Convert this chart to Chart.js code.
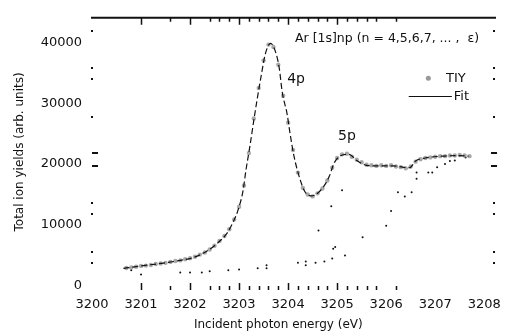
<!DOCTYPE html>
<html>
<head>
<meta charset="utf-8">
<script src="https://cdn.jsdelivr.net/npm/chart.js@4"></script>
<style>
  html, body { margin: 0; padding: 0; background: #fff; }
</style>
</head>
<body>
<canvas id="tiyChart" width="512" height="336"></canvas>
<script>
// fit curve (dashed line)
const fitEnergy = [3200.64, 3200.74, 3201.0, 3201.4, 3201.8, 3202.08, 3202.34, 3202.54, 3202.74, 3202.88,
  3202.98, 3203.08, 3203.14, 3203.22, 3203.32, 3203.44, 3203.54, 3203.64, 3203.74, 3203.82,
  3203.88, 3203.98, 3204.04, 3204.12, 3204.24, 3204.34, 3204.46, 3204.54, 3204.64, 3204.74,
  3204.84, 3204.94, 3205.08, 3205.24, 3205.4, 3205.6, 3205.88, 3206.14, 3206.48, 3206.6,
  3206.8, 3207.14, 3207.48, 3207.68];
const fitYield = [2900, 3000, 3300, 3700, 4200, 4700, 5700, 6900, 8500, 10500,
  12500, 15600, 19000, 22900, 28200, 34000, 38200, 39800, 38500, 35700,
  31800, 28200, 25000, 21300, 17600, 15500, 14800, 14900, 15500, 16500,
  18000, 20200, 21400, 21600, 20600, 19800, 19700, 19700, 19400, 20500,
  21000, 21300, 21400, 21300];

// measured total ion yield
const tiyEnergy = [3200.7, 3200.8, 3200.9, 3201.0, 3201.1, 3201.2, 3201.3, 3201.4, 3201.5, 3201.6,
  3201.7, 3201.8, 3201.9, 3202.0, 3202.1, 3202.2, 3202.3, 3202.4, 3202.5, 3202.6,
  3202.7, 3202.8, 3202.9, 3203.0, 3203.1, 3203.2, 3203.3, 3203.4, 3203.5, 3203.6,
  3203.7, 3203.8, 3203.9, 3204.0, 3204.1, 3204.2, 3204.3, 3204.4, 3204.5, 3204.6,
  3204.7, 3204.8, 3204.9, 3205.0, 3205.1, 3205.2, 3205.3, 3205.4, 3205.5, 3205.6,
  3205.7, 3205.8, 3205.9, 3206.0, 3206.1, 3206.2, 3206.3, 3206.4, 3206.5, 3206.6,
  3206.7, 3206.8, 3206.9, 3207.0, 3207.1, 3207.2, 3207.3, 3207.4, 3207.5, 3207.6, 3207.7];
const tiyYield = [2950, 3050, 3150, 3300, 3350, 3450, 3600, 3700, 3800, 3950,
  4100, 4200, 4400, 4550, 4800, 5150, 5500, 6000, 6600, 7400,
  8200, 9300, 10900, 13000, 16500, 21800, 27500, 32500, 37000, 39600,
  39200, 36300, 31200, 26800, 22300, 18600, 16100, 15000, 14700, 15200,
  16000, 17300, 19400, 21000, 21600, 21700, 21200, 20700, 20300, 19900,
  19800, 19700, 19800, 19700, 19800, 19600, 19500, 19300, 19600, 20400,
  20800, 21000, 21100, 21200, 21300, 21300, 21400, 21400, 21500, 21400, 21300];

// fit components (sparse dotted)
const compEnergy = [3200.8, 3201.0, 3201.8, 3202.0, 3202.24, 3202.4, 3202.78, 3203.0, 3203.38, 3203.56,
  3203.56, 3204.2, 3204.36, 3204.36, 3204.56, 3204.74, 3204.9, 3204.92, 3204.96, 3205.16,
  3204.62, 3204.88, 3205.1, 3205.52, 3206.0, 3206.1, 3206.24, 3206.38, 3206.52, 3206.62,
  3206.62, 3206.86, 3206.94, 3207.04, 3207.2, 3207.3, 3207.4, 3207.62];
const compYield = [2600, 1900, 2200, 2200, 2200, 2400, 2600, 2700, 2900, 3400,
  2900, 3800, 4000, 3400, 3800, 4000, 4500, 6100, 6400, 5000,
  9100, 13100, 15700, 8000, 9900, 12300, 15400, 14700, 15400, 17600,
  18600, 18600, 18600, 19500, 20000, 20500, 20600, 21100];

const xLabelTicks = [3200, 3201, 3202, 3203, 3204, 3205, 3206, 3207, 3208];
const xMarkTicks = [3201, 3201.6, 3202, 3202.4, 3202.6, 3202.8, 3203, 3203.2, 3203.4, 3203.6,
  3203.8, 3204, 3204.2, 3204.4, 3204.6, 3204.8, 3205, 3205.2, 3205.4, 3205.6, 3205.8, 3206.2];
const yLabelTicks = [0, 10000, 20000, 30000, 40000];
const yDotTicks = [41900, 35800, 33900, 27800, 13600, 11800, 5600, 3800];
const yDashTicks = [21800, 19700];

const toPoints = (xs, ys) => xs.map((x, i) => ({ x: x, y: ys[i] }));
const ink = '#111';
const fontFam = '"DejaVu Sans", sans-serif';

// frame ticks, annotations, legend and x title
const frameDecor = {
  id: 'frameDecor',
  afterDraw(chart) {
    const ctx = chart.ctx;
    const xs = chart.scales.x, ys = chart.scales.y;
    const top = ys.top, bottom = ys.getPixelForValue(0);
    ctx.save();
    ctx.strokeStyle = ink;
    ctx.fillStyle = ink;

    ctx.lineWidth = 2;
    ctx.beginPath();
    ctx.moveTo(xs.left - 1, top);
    ctx.lineTo(xs.right + 2, top);
    ctx.stroke();

    ctx.lineWidth = 1.5;
    xMarkTicks.forEach(v => {
      const px = Math.round(xs.getPixelForValue(v)) + 0.5;
      const major = Number.isInteger(v);
      ctx.beginPath();
      ctx.moveTo(px, top);
      ctx.lineTo(px, top + (major ? 7 : 4));
      ctx.moveTo(px, bottom + (major ? -3 : 0));
      ctx.lineTo(px, bottom + 4);
      ctx.stroke();
    });

    yDotTicks.forEach(v => {
      const py = Math.round(ys.getPixelForValue(v));
      ctx.fillRect(xs.left - 1, py - 1, 2, 2);
      ctx.fillRect(xs.right - 1, py - 1, 2, 2);
    });
    yDashTicks.forEach(v => {
      const py = Math.round(ys.getPixelForValue(v));
      ctx.fillRect(xs.left, py - 1, 6, 2);
      ctx.fillRect(xs.right - 3, py - 1, 6, 2);
    });

    ctx.textBaseline = 'middle';
    ctx.textAlign = 'left';
    ctx.font = '12.5px ' + fontFam;
    ctx.fillText('Ar [1s]np (n = 4,5,6,7, ... ,  \u03b5)', xs.getPixelForValue(3204.14), ys.getPixelForValue(40500));
    ctx.font = '14px ' + fontFam;
    ctx.fillText('4p', xs.getPixelForValue(3203.98), ys.getPixelForValue(33900));
    ctx.fillText('5p', xs.getPixelForValue(3205.02), ys.getPixelForValue(24500));

    // legend
    ctx.font = '13px ' + fontFam;
    const my = ys.getPixelForValue(34100);
    ctx.fillStyle = '#999';
    ctx.beginPath();
    ctx.arc(xs.getPixelForValue(3206.86), my, 2.5, 0, Math.PI * 2);
    ctx.fill();
    ctx.fillStyle = ink;
    ctx.fillText('TIY', xs.getPixelForValue(3207.22), my);
    const ly = Math.round(ys.getPixelForValue(31200)) + 0.5;
    ctx.lineWidth = 1;
    ctx.beginPath();
    ctx.moveTo(xs.getPixelForValue(3206.46), ly);
    ctx.lineTo(xs.getPixelForValue(3207.34), ly);
    ctx.stroke();
    ctx.fillText('Fit', xs.getPixelForValue(3207.38), ly);

    ctx.textAlign = 'center';
    ctx.font = '12px ' + fontFam;
    ctx.fillText('Incident photon energy (eV)', xs.getPixelForValue(3203.8), chart.height - 11);
    ctx.restore();
  }
};

const canvas = document.getElementById('tiyChart');
new Chart(canvas, {
  type: 'scatter',
  data: {
    datasets: [
      {
        label: 'Fit',
        type: 'line',
        data: toPoints(fitEnergy, fitYield),
        borderColor: ink,
        borderWidth: 1.2,
        borderDash: [6, 3],
        pointRadius: 0,
        cubicInterpolationMode: 'monotone',
        fill: false,
        order: 0,
      },
      {
        label: 'TIY',
        data: toPoints(tiyEnergy, tiyYield),
        backgroundColor: 'rgba(140,140,140,0.75)',
        borderWidth: 0,
        pointRadius: 2.2,
        order: 1,
      },
      {
        label: 'components',
        data: toPoints(compEnergy, compYield),
        backgroundColor: ink,
        borderWidth: 0,
        pointRadius: 1,
        order: 2,
      },
    ]
  },
  options: {
    responsive: false,
    animation: false,
    layout: { padding: { left: 0, right: 10, top: 11, bottom: 0 } },
    scales: {
      x: {
        type: 'linear',
        min: 3200,
        max: 3208.2,
        afterBuildTicks: s => { s.ticks = xLabelTicks.map(v => ({ value: v })); },
        afterFit: s => { s.height = 50; },
        grid: { display: false, drawTicks: false },
        border: { display: false },
        ticks: {
          padding: 11,
          color: ink,
          maxRotation: 0,
          autoSkip: false,
          font: { family: fontFam, size: 13 },
          callback: v => String(v),
        },
      },
      y: {
        type: 'linear',
        min: 0,
        max: 44000,
        afterBuildTicks: s => { s.ticks = yLabelTicks.map(v => ({ value: v })); },
        afterFit: s => { s.width = 92; },
        grid: { display: false, drawTicks: false },
        border: { display: false },
        ticks: {
          padding: 10,
          color: ink,
          font: { family: fontFam, size: 13 },
          callback: v => String(v),
        },
        title: {
          display: true,
          text: 'Total ion yields (arb. units)',
          color: ink,
          font: { family: fontFam, size: 12 },
          padding: { top: 13, bottom: 0 },
        },
      },
    },
    plugins: {
      legend: { display: false },
      tooltip: { enabled: false },
    },
  },
  plugins: [frameDecor],
});
</script>
</body>
</html>
